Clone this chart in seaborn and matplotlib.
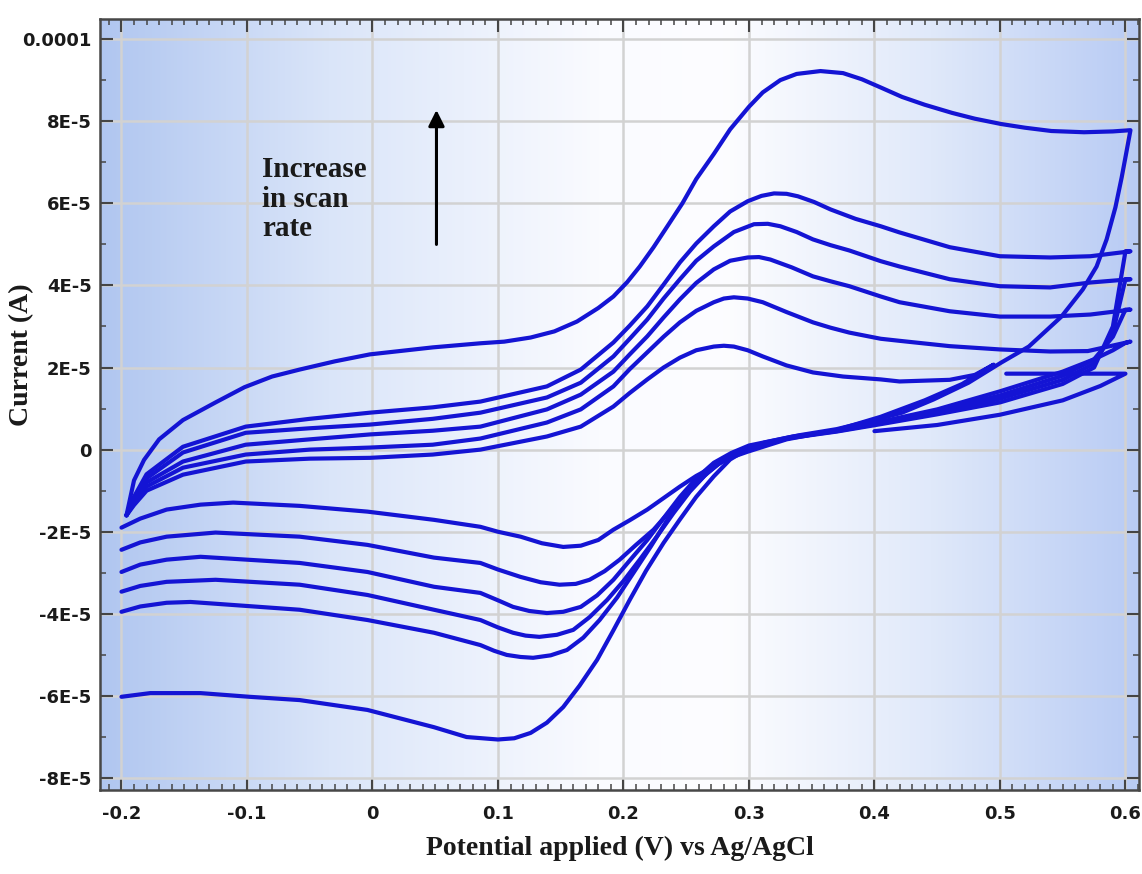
import numpy as np
import pandas as pd
import matplotlib
matplotlib.use("Agg")
import matplotlib.pyplot as plt
import seaborn as sns
from matplotlib.ticker import MultipleLocator

# ---------------- data (current values in units of 1E-5 A) ----------------
# Curve 1 (lowest scan rate)
c1_low_x = [-0.200, -0.185, -0.164, -0.137, -0.111, -0.058, -0.004, 0.049, 0.086, 0.100, 0.118, 0.135,
            0.152, 0.166, 0.180, 0.192, 0.205, 0.219, 0.232, 0.245, 0.258, 0.272, 0.285, 0.299,
            0.330, 0.370, 0.405, 0.440, 0.470, 0.495]
c1_low_y = [-1.90, -1.68, -1.46, -1.34, -1.29, -1.37, -1.51, -1.71, -1.88, -2.00, -2.12, -2.28,
            -2.37, -2.34, -2.20, -1.95, -1.72, -1.46, -1.18, -0.90, -0.64, -0.41, -0.20, -0.05,
            0.25, 0.48, 0.80, 1.20, 1.60, 2.07]
c1_up_x = [-0.196, -0.190, -0.180, -0.151, -0.101, -0.050, -0.002, 0.048, 0.086, 0.139, 0.166, 0.192,
           0.205, 0.219, 0.232, 0.245, 0.258, 0.272, 0.280, 0.288, 0.299, 0.311, 0.330, 0.351,
           0.375, 0.405, 0.420, 0.460, 0.480, 0.495]
c1_up_y = [-1.60, -1.35, -1.00, -0.61, -0.29, -0.22, -0.20, -0.12, 0.00, 0.32, 0.56, 1.05,
           1.38, 1.71, 2.00, 2.24, 2.42, 2.51, 2.53, 2.51, 2.42, 2.27, 2.05, 1.88,
           1.78, 1.71, 1.66, 1.70, 1.82, 2.07]

# Curve 2
c2_low_x = [-0.200, -0.185, -0.164, -0.125, -0.058, -0.004, 0.049, 0.086, 0.100, 0.118, 0.134, 0.149,
            0.162, 0.173, 0.185, 0.197, 0.210, 0.224, 0.237, 0.251, 0.264, 0.277, 0.290, 0.304,
            0.335, 0.370, 0.405, 0.450, 0.500, 0.550, 0.575, 0.590, 0.600]
c2_low_y = [-2.44, -2.26, -2.12, -2.02, -2.12, -2.32, -2.63, -2.76, -2.92, -3.10, -3.23, -3.29,
            -3.27, -3.17, -2.96, -2.68, -2.32, -1.95, -1.50, -1.05, -0.65, -0.32, -0.10, 0.07,
            0.30, 0.47, 0.68, 0.98, 1.42, 1.90, 2.20, 2.42, 2.60]
c2_up_x = [-0.196, -0.190, -0.180, -0.151, -0.101, -0.050, -0.002, 0.048, 0.086, 0.139, 0.166, 0.192,
           0.205, 0.219, 0.232, 0.245, 0.258, 0.272, 0.280, 0.288, 0.299, 0.311, 0.330, 0.351,
           0.365, 0.380, 0.405, 0.420, 0.460, 0.500, 0.540, 0.570, 0.604]
c2_up_y = [-1.60, -1.30, -0.90, -0.44, -0.12, 0.00, 0.05, 0.12, 0.27, 0.66, 0.98, 1.54,
           1.96, 2.37, 2.75, 3.10, 3.38, 3.59, 3.68, 3.71, 3.68, 3.59, 3.35, 3.10,
           2.97, 2.85, 2.70, 2.65, 2.52, 2.44, 2.39, 2.40, 2.63]

# Curve 3
c3_low_x = [-0.200, -0.185, -0.164, -0.137, -0.058, -0.004, 0.049, 0.086, 0.100, 0.112, 0.125, 0.139,
            0.152, 0.166, 0.179, 0.192, 0.205, 0.219, 0.232, 0.245, 0.258, 0.272, 0.286, 0.300,
            0.335, 0.370, 0.405, 0.450, 0.500, 0.550, 0.575, 0.590, 0.600]
c3_low_y = [-2.98, -2.80, -2.68, -2.61, -2.76, -2.98, -3.34, -3.49, -3.67, -3.83, -3.93, -3.98,
            -3.95, -3.83, -3.55, -3.17, -2.70, -2.20, -1.67, -1.15, -0.70, -0.32, -0.08, 0.10,
            0.32, 0.46, 0.66, 0.94, 1.32, 1.80, 2.20, 2.75, 3.41]
c3_up_x = [-0.196, -0.190, -0.180, -0.151, -0.101, -0.050, -0.002, 0.048, 0.086, 0.139, 0.166, 0.192,
           0.205, 0.219, 0.232, 0.245, 0.258, 0.272, 0.285, 0.299, 0.308, 0.317, 0.334, 0.351,
           0.365, 0.380, 0.405, 0.420, 0.460, 0.500, 0.540, 0.572, 0.604]
c3_up_y = [-1.60, -1.25, -0.80, -0.29, 0.12, 0.25, 0.37, 0.46, 0.56, 0.98, 1.34, 1.90,
           2.32, 2.76, 3.22, 3.66, 4.06, 4.39, 4.60, 4.68, 4.69, 4.63, 4.44, 4.22,
           4.10, 3.98, 3.73, 3.59, 3.37, 3.24, 3.24, 3.29, 3.41]

# Curve 4
c4_low_x = [-0.200, -0.185, -0.164, -0.125, -0.058, -0.004, 0.049, 0.086, 0.100, 0.112, 0.122, 0.133,
            0.147, 0.160, 0.173, 0.187, 0.200, 0.213, 0.227, 0.240, 0.253, 0.267, 0.281, 0.295,
            0.330, 0.370, 0.405, 0.450, 0.500, 0.550, 0.575, 0.590, 0.600]
c4_low_y = [-3.46, -3.32, -3.22, -3.17, -3.29, -3.54, -3.90, -4.15, -4.33, -4.46, -4.53, -4.56,
            -4.51, -4.39, -4.08, -3.66, -3.20, -2.68, -2.10, -1.54, -1.02, -0.56, -0.22, 0.00,
            0.28, 0.45, 0.64, 0.90, 1.24, 1.70, 2.10, 2.85, 4.15]
c4_up_x = [-0.196, -0.190, -0.180, -0.151, -0.101, -0.050, -0.002, 0.048, 0.086, 0.139, 0.166, 0.192,
           0.205, 0.219, 0.232, 0.245, 0.258, 0.272, 0.288, 0.304, 0.315, 0.325, 0.338, 0.351,
           0.365, 0.380, 0.405, 0.420, 0.460, 0.500, 0.540, 0.572, 0.604]
c4_up_y = [-1.60, -1.20, -0.70, -0.07, 0.41, 0.52, 0.61, 0.75, 0.90, 1.27, 1.63, 2.27,
           2.70, 3.17, 3.68, 4.15, 4.60, 4.95, 5.30, 5.49, 5.50, 5.44, 5.30, 5.12,
           4.98, 4.85, 4.59, 4.46, 4.15, 3.98, 3.95, 4.07, 4.15]

# Curve 5
c5_low_x = [-0.200, -0.185, -0.164, -0.145, -0.058, -0.004, 0.049, 0.086, 0.097, 0.107, 0.118, 0.128,
            0.142, 0.155, 0.168, 0.181, 0.195, 0.208, 0.222, 0.235, 0.248, 0.261, 0.275, 0.290,
            0.330, 0.370, 0.405, 0.450, 0.500, 0.550, 0.575, 0.590, 0.600]
c5_low_y = [-3.95, -3.82, -3.73, -3.71, -3.90, -4.15, -4.46, -4.76, -4.90, -5.00, -5.05, -5.07,
            -5.01, -4.88, -4.58, -4.15, -3.60, -3.00, -2.35, -1.71, -1.15, -0.66, -0.30, -0.05,
            0.27, 0.44, 0.62, 0.86, 1.15, 1.60, 2.00, 3.00, 4.83]
c5_up_x = [-0.196, -0.190, -0.180, -0.151, -0.101, -0.050, -0.002, 0.048, 0.086, 0.139, 0.166, 0.192,
           0.205, 0.219, 0.232, 0.245, 0.258, 0.272, 0.285, 0.299, 0.310, 0.320, 0.330, 0.339,
           0.352, 0.365, 0.385, 0.405, 0.420, 0.460, 0.500, 0.540, 0.572, 0.604]
c5_up_y = [-1.60, -1.15, -0.60, 0.07, 0.56, 0.75, 0.90, 1.03, 1.17, 1.54, 1.95, 2.61,
           3.02, 3.49, 4.02, 4.56, 5.02, 5.44, 5.80, 6.05, 6.18, 6.24, 6.23, 6.17,
           6.03, 5.85, 5.62, 5.44, 5.29, 4.93, 4.71, 4.68, 4.71, 4.83]

# Curve 6 (highest scan rate)
c6_low_x = [-0.200, -0.177, -0.137, -0.098, -0.058, -0.004, 0.049, 0.075, 0.100, 0.113, 0.126, 0.139,
            0.152, 0.165, 0.179, 0.192, 0.205, 0.218, 0.232, 0.245, 0.258, 0.272, 0.285, 0.298,
            0.312, 0.340, 0.370, 0.400, 0.422, 0.447, 0.475, 0.501, 0.523, 0.549, 0.566, 0.577,
            0.585, 0.592, 0.597, 0.600]
c6_low_y = [-6.02, -5.93, -5.93, -6.02, -6.10, -6.34, -6.76, -7.00, -7.06, -7.03, -6.90, -6.65,
            -6.27, -5.75, -5.12, -4.40, -3.66, -2.95, -2.27, -1.70, -1.15, -0.65, -0.24, 0.00,
            0.17, 0.35, 0.50, 0.72, 0.90, 1.22, 1.63, 2.12, 2.51, 3.24, 3.90, 4.46,
            5.12, 5.90, 6.63, 7.12]
c6_up_x = [-0.196, -0.190, -0.182, -0.170, -0.151, -0.125, -0.102, -0.080, -0.058, -0.030, -0.002, 0.048,
           0.086, 0.105, 0.126, 0.145, 0.163, 0.180, 0.192, 0.203, 0.213, 0.224, 0.235, 0.247,
           0.258, 0.272, 0.285, 0.300, 0.311, 0.325, 0.338, 0.357, 0.375, 0.390, 0.405, 0.422,
           0.440, 0.462, 0.480, 0.501, 0.520, 0.541, 0.567, 0.590, 0.604]
c6_up_y = [-1.60, -0.75, -0.25, 0.25, 0.72, 1.15, 1.52, 1.78, 1.95, 2.15, 2.32, 2.49,
           2.59, 2.63, 2.73, 2.88, 3.12, 3.45, 3.73, 4.08, 4.46, 4.93, 5.44, 6.00,
           6.59, 7.20, 7.80, 8.35, 8.70, 9.00, 9.15, 9.22, 9.17, 9.02, 8.82, 8.59,
           8.40, 8.20, 8.06, 7.93, 7.84, 7.76, 7.73, 7.75, 7.78]

# short initial segment near the upper vertex
c0_x = [0.505, 0.550, 0.600, 0.580, 0.550, 0.500, 0.450, 0.400]
c0_y = [1.85, 1.85, 1.85, 1.55, 1.20, 0.85, 0.60, 0.45]

xtick_vals = [-0.2, -0.1, 0.0, 0.1, 0.2, 0.3, 0.4, 0.5, 0.6]
xtick_labels = ["-0.2", "-0.1", "0", "0.1", "0.2", "0.3", "0.4", "0.5", "0.6"]
ytick_vals = [-8e-5, -6e-5, -4e-5, -2e-5, 0.0, 2e-5, 4e-5, 6e-5, 8e-5, 1e-4]
ytick_labels = ["-8E-5", "-6E-5", "-4E-5", "-2E-5", "0", "2E-5", "4E-5", "6E-5", "8E-5", "0.0001"]

SCALE = 1e-5

curves = [
    (c1_low_x, c1_low_y, c1_up_x, c1_up_y),
    (c2_low_x, c2_low_y, c2_up_x, c2_up_y),
    (c3_low_x, c3_low_y, c3_up_x, c3_up_y),
    (c4_low_x, c4_low_y, c4_up_x, c4_up_y),
    (c5_low_x, c5_low_y, c5_up_x, c5_up_y),
    (c6_low_x, c6_low_y, c6_up_x, c6_up_y),
]

# ---------------- figure ----------------
sns.set_theme(style="ticks")
plt.rcParams['font.family'] = ['DejaVu Sans']

W, H = 1142, 874
fig = plt.figure(figsize=(W / 100, H / 100), dpi=100, facecolor="white")
ax = fig.add_axes([100 / W, 1 - 790 / H, 1039 / W, 771 / H])

# background gradient (blue at the edges, white in the middle)
stops_pos = [0.0, 0.22, 0.48, 0.60, 0.80, 1.0]
stops_rgb = [(176, 198, 240), (218, 229, 249), (250, 251, 255), (253, 253, 255), (224, 233, 250), (184, 203, 244)]
gx = np.linspace(0, 1, 600)
grad = np.stack([np.interp(gx, stops_pos, [c[i] for c in stops_rgb]) for i in range(3)], axis=-1) / 255.0
ax.imshow(grad[None, :, :], extent=[0, 1, 0, 1], transform=ax.transAxes, aspect="auto", zorder=-2)

blue = "#1414d4"
line_kw = dict(sort=False, estimator=None, color=blue, lw=3.0, ax=ax, zorder=3,
               solid_joinstyle="round", solid_capstyle="round")
for lx, ly, ux, uy in curves:
    px = list(lx) + list(reversed(ux))
    py = [v * SCALE for v in list(ly) + list(reversed(uy))]
    sns.lineplot(x=px, y=py, **line_kw)
sns.lineplot(x=c0_x, y=[v * SCALE for v in c0_y], **line_kw)

ax.set_xlim(-0.2171, 0.6108)
ax.set_ylim(-8.29e-5, 1.0488e-4)

ax.set_xticks(xtick_vals)
ax.set_xticklabels(xtick_labels)
ax.set_yticks(ytick_vals)
ax.set_yticklabels(ytick_labels)
ax.xaxis.set_minor_locator(MultipleLocator(0.01))
ax.yaxis.set_minor_locator(MultipleLocator(1e-5))
ax.tick_params(which="both", direction="in", top=True, right=True, color="#454545")
ax.tick_params(which="major", length=9, width=1.5)
ax.tick_params(which="minor", length=4, width=1.1)
ax.tick_params(axis="y", which="major", pad=6, labelsize=13, labelcolor="#1a1a1a")
ax.tick_params(axis="x", which="major", pad=11, labelsize=13, labelcolor="#1a1a1a")
for lab in ax.get_xticklabels() + ax.get_yticklabels():
    lab.set_fontweight("bold")

ax.grid(True, which="major", color="#d2d2d2", lw=1.8)
ax.set_axisbelow(True)
for s in ax.spines.values():
    s.set_color("#474747")
    s.set_linewidth(1.8)

serif = ["Liberation Serif", "DejaVu Serif"]
ax.set_xlabel("Potential applied (V) vs Ag/AgCl", fontsize=20, fontweight="bold", family=serif, color="#1a1a1a")
ax.xaxis.set_label_coords(0.5, -0.06)
ax.set_ylabel("Current (A)", fontsize=20, fontweight="bold", family=serif, color="#1a1a1a")
ax.yaxis.set_label_coords(-0.063, 0.565)

ax.text(-0.088, 7.15e-5, "Increase\nin scan\nrate", fontsize=21, fontweight="bold", family=serif,
        color="#1a1a1a", ha="left", va="top", linespacing=1.12, zorder=4)
ax.annotate("", xy=(0.051, 8.34e-5), xytext=(0.051, 4.93e-5),
            arrowprops=dict(arrowstyle="-|>", color="black", lw=2.2, mutation_scale=24), zorder=4)

fig.savefig("out.png", dpi=100, facecolor="white")
